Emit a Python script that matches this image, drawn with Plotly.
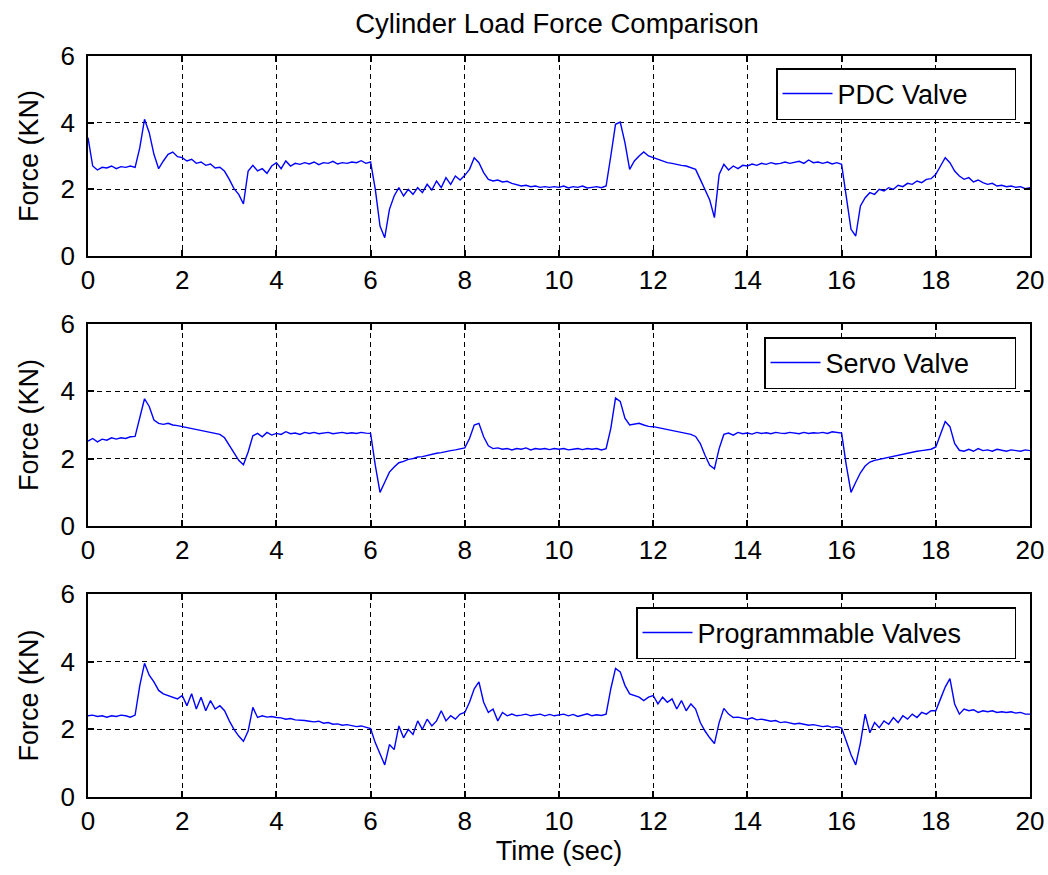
import plotly.graph_objects as go

# ---------------- data ----------------
TIME = [round(0.1 * i, 1) for i in range(201)]

PDC_VALVE = [
    3.55, 2.70, 2.58, 2.66, 2.64, 2.70, 2.62, 2.68, 2.66, 2.70,
    2.66, 3.25, 4.10, 3.70, 3.05, 2.62, 2.85, 3.05, 3.12, 2.98,
    2.95, 2.85, 2.90, 2.78, 2.82, 2.72, 2.76, 2.64, 2.66, 2.54,
    2.30, 2.02, 1.85, 1.56, 2.55, 2.72, 2.55, 2.62, 2.48, 2.70,
    2.80, 2.62, 2.85, 2.70, 2.78, 2.75, 2.80, 2.76, 2.82, 2.74,
    2.80, 2.78, 2.84, 2.76, 2.80, 2.78, 2.82, 2.80, 2.86, 2.78,
    2.82, 2.00, 0.90, 0.55, 1.40, 1.80, 2.05, 1.80, 2.00, 1.85,
    2.05, 1.90, 2.15, 1.98, 2.25, 2.05, 2.35, 2.15, 2.40, 2.28,
    2.42, 2.60, 2.95, 2.80, 2.50, 2.30, 2.25, 2.28, 2.22, 2.24,
    2.18, 2.14, 2.10, 2.12, 2.08, 2.10, 2.06, 2.08, 2.06, 2.08,
    2.06, 2.10, 2.04, 2.08, 2.06, 2.10, 2.04, 2.06, 2.08, 2.05,
    2.10, 3.00, 3.95, 4.02, 3.40, 2.60, 2.85, 3.00, 3.12, 3.00,
    2.95, 2.88, 2.85, 2.80, 2.78, 2.74, 2.72, 2.70, 2.66, 2.60,
    2.30, 2.00, 1.68, 1.15, 2.45, 2.75, 2.58, 2.70, 2.62, 2.72,
    2.70, 2.76, 2.72, 2.78, 2.75, 2.80, 2.76, 2.78, 2.82, 2.78,
    2.80, 2.84, 2.78, 2.88, 2.80, 2.82, 2.78, 2.82, 2.76, 2.80,
    2.75, 1.80, 0.80, 0.60, 1.50, 1.75, 1.90, 1.85, 2.00, 1.95,
    2.05, 2.00, 2.12, 2.08, 2.18, 2.15, 2.25, 2.20, 2.30, 2.32,
    2.45, 2.70, 2.95, 2.80, 2.55, 2.40, 2.30, 2.35, 2.22, 2.28,
    2.20, 2.15, 2.18, 2.10, 2.12, 2.08, 2.10, 2.06, 2.08, 2.02,
    2.05,
]

SERVO_VALVE = [
    2.52, 2.60, 2.50, 2.58, 2.55, 2.62, 2.58, 2.62, 2.60, 2.65,
    2.66, 3.20, 3.78, 3.55, 3.15, 3.05, 3.02, 3.05, 3.00, 2.98,
    2.95, 2.92, 2.90, 2.86, 2.84, 2.80, 2.78, 2.74, 2.72, 2.62,
    2.40, 2.15, 1.95, 1.82, 2.20, 2.68, 2.75, 2.65, 2.78, 2.70,
    2.75, 2.72, 2.80, 2.74, 2.76, 2.72, 2.78, 2.75, 2.78, 2.74,
    2.76, 2.78, 2.74, 2.76, 2.78, 2.75, 2.77, 2.75, 2.78, 2.76,
    2.75, 1.80, 1.00, 1.30, 1.60, 1.75, 1.88, 1.92, 1.98, 2.00,
    2.05, 2.06, 2.10, 2.14, 2.16, 2.18, 2.22, 2.24, 2.26, 2.30,
    2.32, 2.60, 3.00, 3.05, 2.65, 2.38, 2.30, 2.32, 2.28, 2.30,
    2.26, 2.30, 2.28, 2.32, 2.26, 2.30, 2.28, 2.30, 2.27, 2.30,
    2.28, 2.30, 2.26, 2.28, 2.30, 2.27, 2.30, 2.28, 2.30, 2.26,
    2.30, 2.90, 3.80, 3.70, 3.20, 3.00, 3.02, 3.05, 3.00, 2.96,
    2.95, 2.92, 2.88, 2.86, 2.82, 2.80, 2.76, 2.74, 2.72, 2.66,
    2.45, 2.10, 1.80, 1.70, 2.30, 2.72, 2.76, 2.70, 2.78, 2.74,
    2.76, 2.73, 2.78, 2.75, 2.77, 2.74, 2.78, 2.76, 2.75, 2.78,
    2.76, 2.74, 2.78, 2.75, 2.77, 2.76, 2.78, 2.75, 2.80, 2.77,
    2.76, 1.80, 1.00, 1.30, 1.58, 1.78, 1.90, 1.95, 1.98, 2.02,
    2.05, 2.08, 2.10, 2.14, 2.18, 2.20, 2.22, 2.24, 2.25, 2.28,
    2.35, 2.75, 3.10, 2.95, 2.45, 2.25, 2.22, 2.28, 2.22, 2.30,
    2.24, 2.26, 2.22, 2.28, 2.24, 2.22, 2.26, 2.24, 2.22, 2.26,
    2.24,
]

PROGRAMMABLE_VALVES = [
    2.40, 2.42, 2.38, 2.40, 2.36, 2.40, 2.38, 2.42, 2.40, 2.36,
    2.42, 3.30, 3.95, 3.60, 3.40, 3.15, 3.05, 3.00, 2.95, 2.90,
    3.00, 2.70, 3.05, 2.60, 2.95, 2.55, 2.85, 2.60, 2.70, 2.55,
    2.25, 2.00, 1.80, 1.65, 1.95, 2.65, 2.35, 2.40, 2.36, 2.38,
    2.35, 2.34, 2.30, 2.32, 2.28, 2.28, 2.26, 2.24, 2.22, 2.24,
    2.18, 2.20, 2.15, 2.16, 2.12, 2.14, 2.10, 2.08, 2.10, 2.06,
    2.02, 1.60, 1.30, 0.95, 1.55, 1.40, 2.10, 1.75, 2.00, 1.85,
    2.25, 2.00, 2.30, 2.10, 2.25, 2.55, 2.25, 2.40, 2.30, 2.45,
    2.50, 2.80, 3.20, 3.40, 2.80, 2.50, 2.60, 2.25, 2.50, 2.40,
    2.45, 2.40, 2.42, 2.45, 2.40, 2.42, 2.45, 2.40, 2.44, 2.40,
    2.42, 2.45, 2.40, 2.44, 2.38, 2.42, 2.46, 2.40, 2.43, 2.41,
    2.45, 3.20, 3.80, 3.70, 3.30, 3.05, 3.00, 2.95, 2.85, 2.95,
    3.00, 2.75, 2.95, 2.80, 2.90, 2.60, 2.85, 2.55, 2.75, 2.60,
    2.20, 1.95, 1.75, 1.58, 2.20, 2.62, 2.45, 2.35, 2.36, 2.32,
    2.30, 2.34, 2.28, 2.30, 2.26, 2.24, 2.26, 2.20, 2.22, 2.18,
    2.16, 2.18, 2.14, 2.12, 2.14, 2.10, 2.08, 2.10, 2.06, 2.08,
    2.04, 1.65, 1.25, 0.95, 1.60, 2.45, 1.90, 2.20, 2.05, 2.25,
    2.15, 2.35, 2.20, 2.40, 2.30, 2.45, 2.35, 2.50, 2.45, 2.55,
    2.55, 2.90, 3.25, 3.50, 2.75, 2.45, 2.60, 2.55, 2.58, 2.50,
    2.55, 2.52, 2.55, 2.50, 2.52, 2.50, 2.52, 2.48, 2.50, 2.45,
    2.45,
]

SERIES_NAMES = ["PDC Valve", "Servo Valve", "Programmable Valves"]
X_TICKS = [0, 2, 4, 6, 8, 10, 12, 14, 16, 18, 20]
Y_TICKS = [0, 2, 4, 6]
TITLE = "Cylinder Load Force Comparison"
X_TITLE = "Time (sec)"
Y_TITLE = "Force (KN)"

# ---------------- layout ----------------
W, H = 1048, 875
FONT = "Liberation Sans, Arial, sans-serif"
X_DOM = [88 / W, 1030 / W]
PANELS_PX = [(56, 256), (324, 526), (594, 797)]      # top, bottom in px
LEGEND_TOP_PX = [68, 337, 607]
LEGEND_RIGHT_PX = 1016
LEGEND_ENTRY_W = [172, 184, 312]

fig = go.Figure()
series = [PDC_VALVE, SERVO_VALVE, PROGRAMMABLE_VALVES]
for i, (name, vals) in enumerate(zip(SERIES_NAMES, series)):
    sfx = "" if i == 0 else str(i + 1)
    fig.add_trace(go.Scatter(
        x=TIME, y=vals, mode="lines", name=name,
        line=dict(color="#0000FF", width=1.4),
        xaxis="x" + sfx, yaxis="y" + sfx,
        legend="legend" + sfx, showlegend=True,
    ))

axis_common = dict(
    showgrid=True, gridcolor="black", gridwidth=1, griddash="5px,4px",
    showline=True, linecolor="black", linewidth=1.5, mirror="ticks",
    ticks="inside", ticklen=6, tickwidth=1.5, tickcolor="black",
    zeroline=False, tickfont=dict(family=FONT, size=26, color="black"),
)

layout = dict(
    width=W, height=H,
    margin=dict(l=0, r=0, t=0, b=0),
    paper_bgcolor="white", plot_bgcolor="white",
    font=dict(family=FONT, size=26, color="black"),
    title=dict(text=TITLE, x=557 / W, xanchor="center", y=1 - 23 / H,
               yanchor="middle", yref="container",
               font=dict(family=FONT, size=27.5, color="black")),
)

for i, (top, bot) in enumerate(PANELS_PX):
    sfx = "" if i == 0 else str(i + 1)
    xa = dict(axis_common, domain=X_DOM, range=[0, 20], tickvals=X_TICKS,
              anchor="y" + sfx, automargin=False)
    if i == 2:
        xa["title"] = dict(text=X_TITLE, standoff=6,
                           font=dict(family=FONT, size=27, color="black"))
    ya = dict(axis_common, domain=[1 - bot / H, 1 - top / H], range=[0, 6],
              tickvals=Y_TICKS, anchor="x" + sfx, automargin=False,
              ticklabelstandoff=6,
              title=dict(text=Y_TITLE, standoff=14,
                         font=dict(family=FONT, size=27, color="black")))
    layout["xaxis" + sfx] = xa
    layout["yaxis" + sfx] = ya
    layout["legend" + sfx] = dict(
        x=LEGEND_RIGHT_PX / W, xanchor="right",
        y=1 - LEGEND_TOP_PX[i] / H, yanchor="top",
        bgcolor="white", bordercolor="black", borderwidth=1.5,
        font=dict(family=FONT, size=27, color="black"),
        itemwidth=50, orientation="h",
        entrywidth=LEGEND_ENTRY_W[i], entrywidthmode="pixels",
    )

fig.update_layout(**layout)
fig.write_html("out.html")
